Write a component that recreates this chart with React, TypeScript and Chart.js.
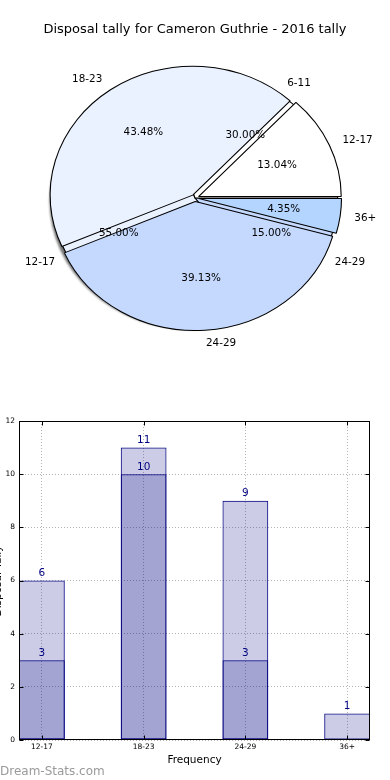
import React, { useEffect, useRef } from 'react';
import { Chart, registerables } from 'chart.js';

Chart.register(...registerables);

// ---------- data ----------
const pageTitle = 'Disposal tally for Cameron Guthrie - 2016 tally';

const outerLabels = ['12-17', '18-23', '24-29', '36+'];
const outerValues = [3, 10, 9, 1];
const outerColors = ['#ffffff', '#ebf2ff', '#c5d9ff', '#b3d5ff'];

const innerLabels = ['6-11', '12-17', '24-29'];
const innerValues = [6, 11, 3];
const innerColors = ['#ffffff', '#ebf2ff', '#c5d9ff'];

const barCategories = ['12-17', '18-23', '24-29', '36+'];
const tallyTotal = [6, 11, 9, 1];
const tallyPart = [3, 10, 3, null];
const yTickValues = [0, 2, 4, 6, 8, 10, 12];

const xAxisTitle = 'Frequency';
const yAxisTitle = 'Disposal Tally';
const watermark = 'Dream-Stats.com';

// ---------- styling ----------
const FONT = 'DejaVu Sans';
const PIE_W = 390;
const PIE_H = 396;
const PIE_RADIUS = 129;
const X_STRETCH = 1.106;
const EXPLODE = 3.5;
const BAR_W = 390;
const BAR_H = 380;
const NAVY = '#000080';
const BAR_FILL = 'rgba(0,0,128,0.2)';

type PieOpts = { explode: number; shadow: boolean };

function piePlugin(opts: PieOpts) {
  return {
    id: 'ellipsePie',
    beforeDatasetDraw(chart: any, args: any) {
      const ctx = chart.ctx;
      const arcs = args.meta.data;
      if (!arcs.length) return false;
      const cx = arcs[0].x;
      const cy = arcs[0].y;
      const R = arcs[0].outerRadius;
      ctx.save();
      if (opts.shadow) {
        ctx.save();
        ctx.filter = 'blur(1px)';
        ctx.fillStyle = 'rgba(0,0,0,0.55)';
        ctx.beginPath();
        ctx.ellipse(cx - 2.8, cy + 2.8, R * X_STRETCH, R, 0, 0, Math.PI * 2);
        ctx.fill();
        ctx.restore();
      }
      ctx.translate(cx, cy);
      ctx.scale(X_STRETCH, 1);
      ctx.translate(-cx, -cy);
      arcs.forEach((el: any) => {
        const mid = (el.startAngle + el.endAngle) / 2;
        ctx.save();
        ctx.translate(Math.cos(mid) * opts.explode, Math.sin(mid) * opts.explode);
        el.draw(ctx);
        ctx.restore();
      });
      ctx.restore();
      return false;
    },
  };
}

function drawPieText(ctx: CanvasRenderingContext2D, chart: any, explode: number) {
  const meta = chart.getDatasetMeta(0);
  const values: number[] = chart.data.datasets[0].data;
  const labels: string[] = chart.data.labels;
  const total = values.reduce((a, b) => a + b, 0);
  ctx.save();
  ctx.fillStyle = '#000';
  ctx.font = `10.4px "${FONT}"`;
  ctx.textBaseline = 'middle';
  meta.data.forEach((el: any, i: number) => {
    const mid = (el.startAngle + el.endAngle) / 2;
    const dx = Math.cos(mid);
    const dy = Math.sin(mid);
    const R = el.outerRadius;
    const lr = 1.1 * R + explode;
    ctx.textAlign = dx >= 0 ? 'left' : 'right';
    ctx.fillText(labels[i], el.x + lr * dx * X_STRETCH, el.y + lr * dy);
    const pr = 0.6 * R + explode;
    ctx.textAlign = 'center';
    const pct = ((values[i] / total) * 100).toFixed(2) + '%';
    ctx.fillText(pct, el.x + pr * dx * X_STRETCH, el.y + pr * dy);
  });
  ctx.restore();
}

export default function App() {
  const backRef = useRef<HTMLCanvasElement | null>(null);
  const frontRef = useRef<HTMLCanvasElement | null>(null);
  const barRef = useRef<HTMLCanvasElement | null>(null);

  useEffect(() => {
    const charts: Chart[] = [];

    const pieBase = (labels: string[], values: number[], colors: string[]) => ({
      labels: labels.slice().reverse(),
      datasets: [
        {
          data: values.slice().reverse(),
          backgroundColor: colors.slice().reverse(),
          borderColor: '#000',
          borderWidth: 1,
          offset: 0,
        },
      ],
    });

    const pieOptions = {
      animation: false as const,
      responsive: false,
      rotation: 90,
      radius: PIE_RADIUS,
      layout: { padding: 0 },
      events: [],
      plugins: { legend: { display: false }, tooltip: { enabled: false } },
    };

    const back = new Chart(backRef.current!, {
      type: 'pie',
      data: pieBase(innerLabels, innerValues, innerColors),
      options: pieOptions as any,
      plugins: [piePlugin({ explode: 0, shadow: true })],
    });
    charts.push(back);

    const front = new Chart(frontRef.current!, {
      type: 'pie',
      data: pieBase(outerLabels, outerValues, outerColors),
      options: pieOptions as any,
      plugins: [
        piePlugin({ explode: EXPLODE, shadow: false }),
        {
          id: 'pieText',
          afterDraw(chart: any) {
            const ctx = chart.ctx;
            drawPieText(ctx, chart, EXPLODE);
            drawPieText(ctx, back, 0);
            ctx.save();
            ctx.fillStyle = '#000';
            ctx.font = `13px "${FONT}"`;
            ctx.textAlign = 'center';
            ctx.textBaseline = 'middle';
            ctx.fillText(pageTitle, PIE_W / 2, 30);
            ctx.restore();
          },
        },
      ],
    });
    charts.push(front);

    const barDataset = (values: (number | null)[]) => ({
      data: values.map((v, i) => ({ x: i, y: v })),
      backgroundColor: BAR_FILL,
      borderColor: NAVY,
      borderWidth: 1,
      borderSkipped: false,
      grouped: false,
      categoryPercentage: 1,
      barPercentage: 0.45,
    });

    const bar = new Chart(barRef.current!, {
      type: 'bar',
      data: {
        datasets: [barDataset(tallyPart), barDataset(tallyTotal)] as any,
      },
      options: {
        animation: false,
        responsive: false,
        events: [],
        layout: { padding: { top: 21, right: 20, left: 0, bottom: 0 } },
        plugins: { legend: { display: false }, tooltip: { enabled: false } },
        scales: {
          x: {
            type: 'linear',
            offset: false,
            min: -0.225,
            max: 3.225,
            afterBuildTicks: (s: any) => {
              s.ticks = barCategories.map((_, i) => ({ value: i }));
            },
            afterFit: (s: any) => {
              s.height = 40;
            },
            ticks: {
              callback: (v: any) => barCategories[v as number] ?? '',
              font: { family: FONT, size: 7.5 },
              color: '#000',
              padding: 3,
              maxRotation: 0,
              autoSkip: false,
            },
            grid: { color: '#b4b4b4', drawTicks: false, lineWidth: 1, offset: false },
            border: { display: false, dash: [1, 2] },
          },
          y: {
            min: 0,
            max: 12,
            afterBuildTicks: (s: any) => {
              s.ticks = yTickValues.map((v) => ({ value: v }));
            },
            afterFit: (s: any) => {
              s.width = 19;
            },
            ticks: {
              font: { family: FONT, size: 7.5 },
              color: '#000',
              padding: 4,
            },
            grid: { color: '#b4b4b4', drawTicks: false, lineWidth: 1 },
            border: { display: false, dash: [1, 2] },
          },
        },
      } as any,
      plugins: [
        {
          id: 'barExtras',
          afterDatasetsDraw(chart: any) {
            const ctx = chart.ctx;
            ctx.save();
            ctx.fillStyle = NAVY;
            ctx.font = `10.5px "${FONT}"`;
            ctx.textAlign = 'center';
            ctx.textBaseline = 'bottom';
            chart.data.datasets.forEach((ds: any, d: number) => {
              const meta = chart.getDatasetMeta(d);
              meta.data.forEach((el: any, i: number) => {
                const v = ds.data[i].y;
                if (v === null || v === undefined) return;
                ctx.fillText(String(v), el.x, el.y - 2);
              });
            });
            ctx.restore();
          },
          afterDraw(chart: any) {
            const ctx = chart.ctx;
            const a = chart.chartArea;
            const xs = chart.scales.x;
            const ys = chart.scales.y;
            ctx.save();
            ctx.strokeStyle = '#000';
            ctx.lineWidth = 1;
            const L = Math.round(a.left) + 0.5;
            const R = Math.round(a.right) - 0.5;
            const T = Math.round(a.top) + 0.5;
            const B = Math.round(a.bottom) - 0.5;
            ctx.strokeRect(L, T, R - L, B - T);
            ctx.beginPath();
            yTickValues.forEach((v) => {
              const y = Math.round(ys.getPixelForValue(v)) + 0.5;
              ctx.moveTo(L, y);
              ctx.lineTo(L + 4, y);
              ctx.moveTo(R, y);
              ctx.lineTo(R - 4, y);
            });
            barCategories.forEach((_, i) => {
              const x = Math.round(xs.getPixelForValue(i)) + 0.5;
              ctx.moveTo(x, B);
              ctx.lineTo(x, B - 4);
              ctx.moveTo(x, T);
              ctx.lineTo(x, T + 4);
            });
            ctx.stroke();

            ctx.fillStyle = '#000';
            ctx.font = `10.5px "${FONT}"`;
            ctx.textAlign = 'center';
            ctx.textBaseline = 'middle';
            ctx.fillText(xAxisTitle, (a.left + a.right) / 2, 360);

            ctx.save();
            ctx.translate(1, 181);
            ctx.rotate(-Math.PI / 2);
            ctx.textAlign = 'center';
            ctx.textBaseline = 'alphabetic';
            ctx.fillText(yAxisTitle, 0, 0);
            ctx.restore();

            ctx.fillStyle = '#9a9a9a';
            ctx.font = `12px "${FONT}"`;
            ctx.textAlign = 'left';
            ctx.textBaseline = 'alphabetic';
            ctx.fillText(watermark, 0, 375);
            ctx.restore();
          },
        },
      ],
    });
    charts.push(bar);

    return () => {
      charts.forEach((c) => c.destroy());
    };
  }, []);

  return (
    <div
      style={{
        position: 'absolute',
        left: 0,
        top: 0,
        width: 390,
        height: 780,
        background: '#fff',
        overflow: 'hidden',
      }}
    >
      <canvas
        ref={backRef}
        width={PIE_W}
        height={PIE_H}
        style={{ position: 'absolute', left: 0, top: 0 }}
      />
      <canvas
        ref={frontRef}
        width={PIE_W}
        height={PIE_H}
        style={{ position: 'absolute', left: 0, top: 0 }}
      />
      <canvas
        ref={barRef}
        width={BAR_W}
        height={BAR_H}
        style={{ position: 'absolute', left: 0, top: 400 }}
      />
    </div>
  );
}
